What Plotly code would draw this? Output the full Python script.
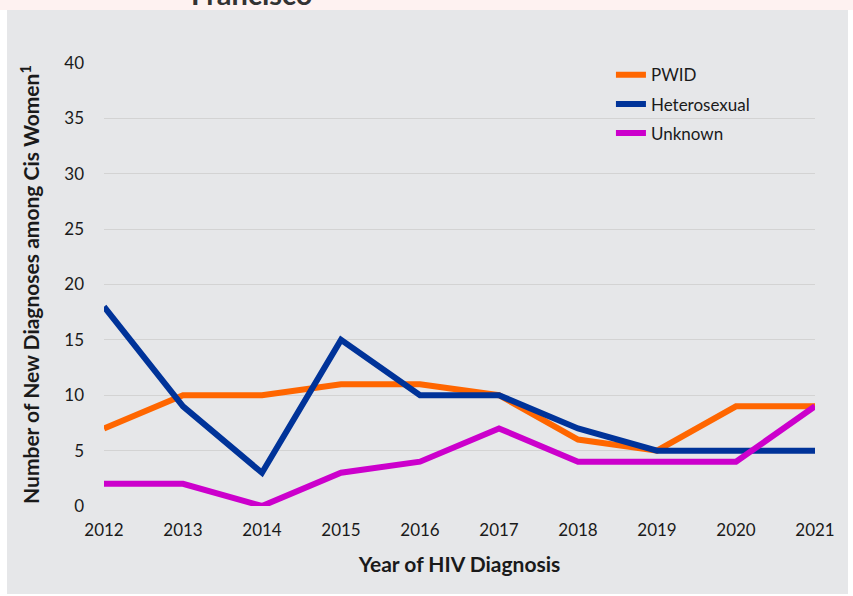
import plotly.graph_objects as go

years = [2012, 2013, 2014, 2015, 2016, 2017, 2018, 2019, 2020, 2021]
pwid = [7, 10, 10, 11, 11, 10, 6, 5, 9, 9]
hetero = [18, 9, 3, 15, 10, 10, 7, 5, 5, 5]
unknown = [2, 2, 0, 3, 4, 7, 4, 4, 4, 9]

series = [
    ("PWID", pwid, "#FF6600"),
    ("Heterosexual", hetero, "#003399"),
    ("Unknown", unknown, "#CC00CC"),
]

FONT = "Lato"
fig = go.Figure()
for name, vals, col in series:
    fig.add_trace(go.Scatter(x=years, y=vals, name=name, mode="lines",
                             legendgroup=name,
                             line=dict(color=col, width=6)))

fig.update_layout(
    width=853, height=596,
    margin=dict(l=104, r=38, t=63, b=90),
    paper_bgcolor="white",
    plot_bgcolor="rgba(0,0,0,0)",
    font=dict(family=FONT, size=17, color="#1a1a1a"),
    showlegend=True,
    legend=dict(x=0.713, y=1.013, xanchor="left", yanchor="top",
                traceorder="grouped", tracegroupgap=4, itemwidth=30,
                bgcolor="rgba(0,0,0,0)", font=dict(size=17, color="#1a1a1a")),
    shapes=[
        dict(type="rect", xref="paper", yref="paper", layer="below",
             x0=-97/711, x1=744/711, y0=-88/443, y1=1+53/443,
             fillcolor="#E6E7E9", line=dict(width=0)),
        dict(type="rect", xref="paper", yref="paper", layer="below",
             x0=-104/711, x1=749/711, y0=1+53/443, y1=1+63/443,
             fillcolor="#FEF2F1", line=dict(width=0)),
    ],
    annotations=[
        dict(text="<b>Francisco</b>", xref="paper", yref="paper",
             x=(251-104)/711, y=1+50/443, xanchor="center", yanchor="bottom",
             showarrow=False, font=dict(size=29, family=FONT, color="#333")),
    ],
)
fig.update_xaxes(range=[2012, 2021], tickvals=years, showgrid=False,
                 zeroline=False, showline=False, ticks="",
                 tickfont=dict(size=17), ticklabelstandoff=12,
                 title=dict(text="<b>Year of HIV Diagnosis</b>", font=dict(size=21), standoff=18))
fig.update_yaxes(range=[0, 40], tickvals=list(range(0, 41, 5)), showgrid=True,
                 gridcolor="#D3D3D3", gridwidth=1, zeroline=False, showline=False,
                 ticks="", tickfont=dict(size=17), ticklabelstandoff=19,
                 title=dict(text="<b>Number of New Diagnoses among Cis Women<sup>1</sup></b>",
                            font=dict(size=21), standoff=18))
fig.write_html("out.html", config={"displayModeBar": False},
               post_script="document.body.style.margin='0';")
